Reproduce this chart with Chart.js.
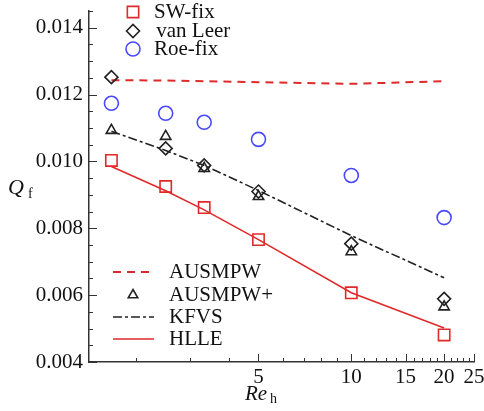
<!DOCTYPE html>
<html>
<head>
<meta charset="utf-8">
<script src="https://cdn.jsdelivr.net/npm/chart.js@4/dist/chart.umd.min.js"></script>
<style>
  html, body { margin: 0; padding: 0; background: #fff; }
  #wrap { width: 484px; height: 411px; }
</style>
</head>
<body>
<div id="wrap"><canvas id="chart" width="484" height="411"></canvas></div>
<script>
// Re_h sample positions
const reH = [1.667, 2.5, 3.333, 5, 10, 20];

// symbols
const swFix    = [0.01003, 0.00925, 0.00862, 0.00766, 0.00607, 0.00481];
const vanLeer  = [0.01252, 0.01039, 0.00988, 0.00910, 0.00754, 0.00589];
const roeFix   = [0.01174, 0.01144, 0.01117, 0.01066, 0.00958, 0.00832];
const ausmpwP  = [0.01093, 0.01075, 0.00979, 0.00895, 0.00730, 0.00565];

// lines
const ausmpw   = [0.01243, 0.01242, 0.01240, 0.01237, 0.01232, 0.01240];
const kfvs     = [0.01090, 0.01033, 0.00988, 0.00913, 0.00778, 0.00652];
const hlle     = [0.00985, 0.00912, 0.00855, 0.00766, 0.00607, 0.00502];

const xMajor = [5, 10, 15, 20, 25];
const xMinor = [2, 3, 4, 6, 7, 8, 9, 11, 12, 13, 14, 16, 17, 18, 19, 21, 22, 23, 24];
const yMajor = [0.004, 0.006, 0.008, 0.010, 0.012, 0.014];
const yMinor = [0.0045, 0.005, 0.0055, 0.0065, 0.007, 0.0075, 0.0085, 0.009, 0.0095,
                0.0105, 0.011, 0.0115, 0.0125, 0.013, 0.0135, 0.0145];

const RED = '#e02a2a';
const BLUE = '#4848ff';
const BLACK = '#222';
const SERIF = "'Liberation Serif', serif";

const pts = ys => reH.map((x, i) => ({ x: x, y: ys[i] }));

const legendTop = [
  { label: 'SW-fix', style: 'rect', color: RED, r: 8, y: 12, tx: 154 },
  { label: ' van Leer', style: 'rectRot', color: BLACK, r: 6.5, y: 31, tx: 151 },
  { label: 'Roe-fix', style: 'circle', color: BLUE, r: 7, y: 49, tx: 154 }
];
const legendBottom = [
  { label: 'AUSMPW', line: [8, 6], color: RED, w: 2, y: 272 },
  { label: 'AUSMPW+', style: 'triangle', color: BLACK, r: 5.5, y: 295 },
  { label: 'KFVS', line: [9, 3, 3, 3], color: BLACK, w: 1.6, y: 317 },
  { label: 'HLLE', line: [], color: RED, w: 1.6, y: 339 }
];

const decorPlugin = {
  id: 'decor',
  afterDraw(chart) {
    const { ctx, scales: { x, y } } = chart;
    ctx.save();
    // inward tick marks
    ctx.strokeStyle = '#333';
    ctx.lineWidth = 1;
    ctx.beginPath();
    xMajor.forEach(v => { const px = Math.round(x.getPixelForValue(v)) + 0.5; ctx.moveTo(px, y.bottom); ctx.lineTo(px, y.bottom - 8); });
    xMinor.forEach(v => { const px = Math.round(x.getPixelForValue(v)) + 0.5; ctx.moveTo(px, y.bottom); ctx.lineTo(px, y.bottom - 4); });
    yMajor.forEach(v => { const py = Math.round(y.getPixelForValue(v)) + 0.5; ctx.moveTo(x.left, py); ctx.lineTo(x.left + 8, py); });
    yMinor.forEach(v => { const py = Math.round(y.getPixelForValue(v)) + 0.5; ctx.moveTo(x.left, py); ctx.lineTo(x.left + 4, py); });
    ctx.stroke();

    // axis titles with subscripts
    ctx.fillStyle = '#111';
    ctx.textBaseline = 'alphabetic';
    ctx.textAlign = 'left';
    ctx.font = 'italic 22px ' + SERIF;
    ctx.fillText('Q', 8, 194);
    ctx.font = '14px ' + SERIF;
    ctx.fillText('f', 28, 198);
    ctx.font = 'italic 21px ' + SERIF;
    ctx.fillText('Re', 245, 400);
    ctx.font = '14px ' + SERIF;
    ctx.fillText('h', 270, 403);

    // legends
    ctx.font = '21px ' + SERIF;
    ctx.textBaseline = 'middle';
    legendTop.forEach(it => {
      ctx.strokeStyle = it.color;
      ctx.fillStyle = 'rgba(0,0,0,0)';
      ctx.lineWidth = 1.6;
      Chart.helpers.drawPoint(ctx, { pointStyle: it.style, radius: it.r, borderWidth: 1.6, rotation: 0 }, 133, it.y);
      ctx.fillStyle = '#111';
      ctx.fillText(it.label, it.tx, it.y);
    });
    legendBottom.forEach(it => {
      ctx.strokeStyle = it.color;
      if (it.style) {
        ctx.fillStyle = 'rgba(0,0,0,0)';
        ctx.lineWidth = 1.6;
        Chart.helpers.drawPoint(ctx, { pointStyle: it.style, radius: it.r, borderWidth: 1.6, rotation: 0 }, 133, it.y);
      } else {
        ctx.lineWidth = it.w;
        ctx.setLineDash(it.line);
        ctx.beginPath();
        ctx.moveTo(113, it.y);
        ctx.lineTo(154, it.y);
        ctx.stroke();
        ctx.setLineDash([]);
      }
      ctx.fillStyle = '#111';
      ctx.fillText(it.label, 169, it.y);
    });
    ctx.restore();
  }
};

function lineSet(label, data, color, dash, width) {
  return {
    label, data: pts(data), showLine: true, borderColor: color, borderWidth: width,
    borderDash: dash, pointRadius: 0, fill: false, tension: 0, order: 2
  };
}
function markSet(label, data, color, style, r) {
  return {
    label, data: pts(data), showLine: false, pointStyle: style, pointRadius: r,
    pointBorderColor: color, pointBackgroundColor: 'rgba(0,0,0,0)', pointBorderWidth: 1.6,
    order: 1
  };
}

new Chart(document.getElementById('chart'), {
  type: 'scatter',
  data: {
    datasets: [
      lineSet('AUSMPW', ausmpw, RED, [8, 6], 2),
      lineSet('KFVS', kfvs, BLACK, [9, 3, 3, 3], 1.6),
      lineSet('HLLE', hlle, RED, [], 1.6),
      markSet('SW-fix', swFix, RED, 'rect', 8),
      markSet('van Leer', vanLeer, BLACK, 'rectRot', 6.5),
      markSet('Roe-fix', roeFix, BLUE, 'circle', 7),
      markSet('AUSMPW+', ausmpwP, BLACK, 'triangle', 6)
    ]
  },
  options: {
    responsive: false,
    animation: false,
    layout: { padding: { top: 11, right: 10, left: 0, bottom: 0 } },
    plugins: { legend: { display: false }, tooltip: { enabled: false } },
    scales: {
      x: {
        type: 'logarithmic',
        min: 1.41,
        max: 25,
        afterBuildTicks: s => { s.ticks = xMajor.map(v => ({ value: v })); },
        afterFit: s => { s.height = 49; s.paddingLeft = 0; s.paddingRight = 0; },
        ticks: {
          color: '#111',
          font: { family: SERIF, size: 21 },
          padding: 3,
          maxRotation: 0,
          autoSkip: false,
          callback: v => String(v)
        },
        grid: { display: true, drawOnChartArea: false, drawTicks: false },
        border: { display: true, color: '#333', width: 1.5 }
      },
      y: {
        type: 'linear',
        min: 0.004,
        max: 0.0145,
        afterBuildTicks: s => { s.ticks = yMajor.map(v => ({ value: v })); },
        afterFit: s => { s.width = 89; s.paddingTop = 0; s.paddingBottom = 0; },
        ticks: {
          color: '#111',
          font: { family: SERIF, size: 21 },
          padding: 6,
          autoSkip: false,
          callback: v => v.toFixed(3)
        },
        grid: { display: true, drawOnChartArea: false, drawTicks: false },
        border: { display: true, color: '#333', width: 1.5 }
      }
    }
  },
  plugins: [decorPlugin]
});
</script>
</body>
</html>
